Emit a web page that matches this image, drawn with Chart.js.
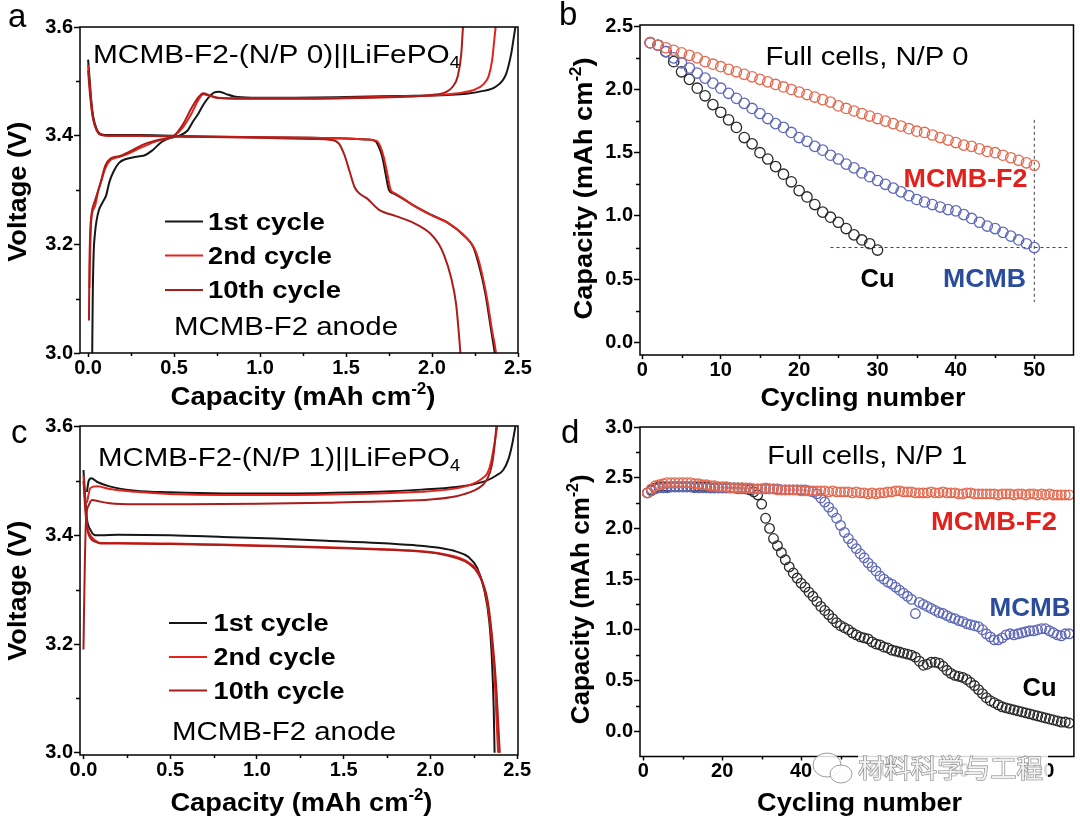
<!DOCTYPE html>
<html>
<head>
<meta charset="utf-8">
<script src="https://cdn.jsdelivr.net/npm/chart.js@4.4.0/dist/chart.umd.min.js"></script>
<style>
  html, body { margin: 0; padding: 0; background: #fff; }
  #wrap { position: relative; width: 1080px; height: 819px; overflow: hidden; background: #fff; }
  canvas { position: absolute; }
</style>
</head>
<body>
<div id="wrap">
  <canvas id="chartA" width="540" height="416" style="left:0;top:0"></canvas>
  <canvas id="chartB" width="540" height="416" style="left:540px;top:0"></canvas>
  <canvas id="chartC" width="540" height="409" style="left:0;top:410px"></canvas>
  <canvas id="chartD" width="540" height="409" style="left:540px;top:410px"></canvas>
</div>
<script>
// ---------- panel a : MCMB-F2-(N/P 0)||LiFePO4, voltage vs capacity
var aXTicks = [0, 0.5, 1.0, 1.5, 2.0, 2.5];
var aXMinor = [0.25, 0.75, 1.25, 1.75, 2.25];
var aYTicks = [3.0, 3.2, 3.4, 3.6];
var aYMinor = [3.1, 3.3, 3.5];

var aCh1Cap = [0.024, 0.027, 0.032, 0.04, 0.05, 0.064, 0.084, 0.105, 0.124, 0.15, 0.18, 0.22, 0.26, 0.30, 0.33, 0.37, 0.43, 0.48, 0.53, 0.58, 0.61, 0.64, 0.67, 0.70, 0.73, 0.76, 0.80, 0.85, 0.95, 1.20, 1.50, 1.80, 2.09, 2.20, 2.29, 2.37, 2.43, 2.46, 2.475, 2.485];
var aCh1V = [3.00, 3.10, 3.18, 3.22, 3.245, 3.264, 3.277, 3.29, 3.315, 3.335, 3.35, 3.357, 3.36, 3.362, 3.364, 3.372, 3.389, 3.396, 3.40, 3.41, 3.426, 3.44, 3.457, 3.47, 3.479, 3.481, 3.477, 3.472, 3.47, 3.47, 3.471, 3.473, 3.475, 3.477, 3.482, 3.49, 3.513, 3.55, 3.58, 3.60];
var aCh2Cap = [0.008, 0.010, 0.014, 0.02, 0.04, 0.06, 0.08, 0.10, 0.13, 0.17, 0.22, 0.30, 0.40, 0.50, 0.55, 0.60, 0.64, 0.67, 0.70, 0.75, 0.90, 1.20, 1.50, 1.80, 2.00, 2.15, 2.25, 2.30, 2.33, 2.35, 2.36, 2.37];
var aCh2V = [3.12, 3.16, 3.21, 3.25, 3.27, 3.30, 3.32, 3.34, 3.355, 3.36, 3.365, 3.377, 3.39, 3.40, 3.415, 3.44, 3.465, 3.476, 3.474, 3.47, 3.469, 3.469, 3.47, 3.472, 3.474, 3.478, 3.485, 3.495, 3.51, 3.54, 3.57, 3.60];
var aCh10Cap = [0.005, 0.008, 0.012, 0.02, 0.04, 0.07, 0.10, 0.13, 0.18, 0.25, 0.33, 0.42, 0.50, 0.55, 0.60, 0.64, 0.67, 0.70, 0.75, 0.90, 1.20, 1.50, 1.80, 2.00, 2.08, 2.12, 2.15, 2.17, 2.18];
var aCh10V = [3.06, 3.16, 3.22, 3.255, 3.28, 3.31, 3.345, 3.358, 3.362, 3.372, 3.385, 3.393, 3.40, 3.42, 3.45, 3.47, 3.478, 3.475, 3.47, 3.468, 3.468, 3.469, 3.471, 3.475, 3.48, 3.49, 3.51, 3.55, 3.60];
var aDis1Cap = [0.0, 0.01, 0.02, 0.03, 0.05, 0.08, 0.12, 0.30, 0.60, 1.00, 1.30, 1.50, 1.62, 1.67, 1.69, 1.71, 1.73, 1.75, 1.78, 1.81, 1.89, 1.99, 2.09, 2.19, 2.24, 2.27, 2.31, 2.34, 2.355, 2.365];
var aDis1V = [3.54, 3.50, 3.46, 3.435, 3.412, 3.402, 3.401, 3.401, 3.399, 3.397, 3.396, 3.395, 3.393, 3.39, 3.38, 3.362, 3.33, 3.30, 3.293, 3.288, 3.272, 3.255, 3.24, 3.215, 3.195, 3.165, 3.11, 3.05, 3.02, 3.00];
var aDis2Cap = [0.0, 0.01, 0.02, 0.03, 0.05, 0.08, 0.12, 0.30, 0.60, 1.00, 1.30, 1.50, 1.62, 1.68, 1.70, 1.72, 1.74, 1.76, 1.79, 1.82, 1.90, 2.00, 2.10, 2.20, 2.25, 2.28, 2.32, 2.35, 2.365, 2.372];
var aDis2V = [3.53, 3.49, 3.455, 3.43, 3.41, 3.401, 3.40, 3.40, 3.398, 3.397, 3.396, 3.395, 3.393, 3.39, 3.38, 3.36, 3.33, 3.30, 3.293, 3.287, 3.27, 3.253, 3.238, 3.212, 3.19, 3.16, 3.10, 3.04, 3.015, 3.00];
var aDis10Cap = [0.0, 0.01, 0.02, 0.03, 0.05, 0.08, 0.12, 0.30, 0.60, 1.00, 1.30, 1.42, 1.46, 1.49, 1.52, 1.55, 1.58, 1.62, 1.69, 1.79, 1.89, 1.99, 2.04, 2.07, 2.11, 2.14, 2.155, 2.165];
var aDis10V = [3.52, 3.48, 3.45, 3.43, 3.41, 3.401, 3.40, 3.40, 3.398, 3.396, 3.394, 3.392, 3.385, 3.365, 3.335, 3.305, 3.293, 3.285, 3.264, 3.252, 3.24, 3.22, 3.20, 3.18, 3.14, 3.09, 3.04, 3.00];

// ---------- panel b : full cells N/P 0, capacity vs cycle
var bXTicks = [0, 10, 20, 30, 40, 50];
var bXMinor = [5, 15, 25, 35, 45];
var bYTicks = [0, 0.5, 1.0, 1.5, 2.0, 2.5];
var bYMinor = [0.25, 0.75, 1.25, 1.75, 2.25];
var bF2 = [2.37, 2.35, 2.33, 2.31, 2.29, 2.27, 2.25, 2.22, 2.20, 2.18, 2.16, 2.14, 2.12, 2.10, 2.08, 2.06, 2.04, 2.02, 2.00, 1.98, 1.96, 1.94, 1.92, 1.90, 1.87, 1.85, 1.83, 1.81, 1.79, 1.77, 1.75, 1.73, 1.71, 1.69, 1.67, 1.66, 1.64, 1.62, 1.60, 1.58, 1.56, 1.55, 1.53, 1.51, 1.50, 1.48, 1.46, 1.44, 1.42, 1.40];
var bMCMB = [2.37, 2.35, 2.30, 2.25, 2.21, 2.17, 2.13, 2.09, 2.05, 2.01, 1.97, 1.93, 1.89, 1.85, 1.81, 1.77, 1.73, 1.70, 1.66, 1.62, 1.59, 1.55, 1.52, 1.48, 1.45, 1.41, 1.38, 1.34, 1.31, 1.28, 1.25, 1.22, 1.19, 1.16, 1.13, 1.11, 1.09, 1.07, 1.05, 1.04, 1.01, 0.98, 0.95, 0.92, 0.90, 0.87, 0.84, 0.81, 0.78, 0.75];
var bCu = [2.37, 2.35, 2.30, 2.22, 2.14, 2.08, 2.01, 1.95, 1.88, 1.82, 1.76, 1.70, 1.62, 1.57, 1.50, 1.45, 1.39, 1.33, 1.27, 1.20, 1.15, 1.09, 1.03, 0.99, 0.95, 0.90, 0.85, 0.81, 0.78, 0.73];
var bHLineX = [24, 54.2];
var bHLineY = [0.75, 0.75];
var bVLineX = [50, 50];
var bVLineY = [1.76, 0.32];

// ---------- panel c : MCMB-F2-(N/P 1)||LiFePO4
var cXTicks = [0, 0.5, 1.0, 1.5, 2.0, 2.5];
var cXMinor = [0.25, 0.75, 1.25, 1.75, 2.25];
var cYTicks = [3.0, 3.2, 3.4, 3.6];
var cYMinor = [3.1, 3.3, 3.5];
var cCh1Cap = [0.02, 0.03, 0.045, 0.08, 0.15, 0.30, 0.50, 0.80, 1.10, 1.40, 1.70, 1.95, 2.15, 2.25, 2.32, 2.38, 2.42, 2.45, 2.47, 2.49];
var cCh1V = [3.48, 3.50, 3.505, 3.498, 3.49, 3.482, 3.479, 3.477, 3.477, 3.478, 3.48, 3.484, 3.489, 3.494, 3.50, 3.51, 3.52, 3.54, 3.565, 3.60];
var cCh2Cap = [0.02, 0.04, 0.08, 0.15, 0.30, 0.50, 0.80, 1.10, 1.40, 1.70, 1.95, 2.10, 2.20, 2.26, 2.30, 2.33, 2.35, 2.37, 2.385];
var cCh2V = [3.46, 3.487, 3.49, 3.485, 3.48, 3.476, 3.474, 3.474, 3.475, 3.477, 3.48, 3.484, 3.49, 3.497, 3.505, 3.515, 3.535, 3.57, 3.60];
var cCh10Cap = [0.0, 0.008, 0.015, 0.03, 0.05, 0.08, 0.15, 0.30, 0.60, 1.00, 1.40, 1.80, 2.00, 2.15, 2.25, 2.30, 2.33, 2.355, 2.37, 2.38];
var cCh10V = [3.19, 3.35, 3.43, 3.455, 3.465, 3.463, 3.459, 3.457, 3.457, 3.458, 3.46, 3.463, 3.466, 3.472, 3.482, 3.492, 3.505, 3.53, 3.565, 3.60];
var cDis1Cap = [0.0, 0.01, 0.02, 0.04, 0.07, 0.10, 0.20, 0.50, 0.80, 1.10, 1.40, 1.70, 1.90, 2.05, 2.15, 2.22, 2.27, 2.31, 2.34, 2.355, 2.365, 2.37];
var cDis1V = [3.52, 3.47, 3.43, 3.41, 3.40, 3.40, 3.401, 3.40, 3.397, 3.394, 3.39, 3.386, 3.382, 3.377, 3.37, 3.36, 3.34, 3.30, 3.24, 3.17, 3.08, 3.00];
var cDis2Cap = [0.0, 0.01, 0.02, 0.04, 0.07, 0.10, 0.20, 0.50, 0.80, 1.10, 1.40, 1.70, 1.90, 2.05, 2.15, 2.22, 2.28, 2.32, 2.35, 2.37, 2.38, 2.39];
var cDis2V = [3.51, 3.46, 3.42, 3.40, 3.39, 3.386, 3.386, 3.385, 3.383, 3.381, 3.378, 3.375, 3.372, 3.367, 3.36, 3.35, 3.33, 3.29, 3.22, 3.14, 3.07, 3.00];
var cDis10Cap = [0.0, 0.01, 0.02, 0.04, 0.07, 0.10, 0.20, 0.50, 0.80, 1.10, 1.40, 1.70, 1.90, 2.05, 2.15, 2.22, 2.28, 2.33, 2.36, 2.38, 2.39, 2.40];
var cDis10V = [3.50, 3.45, 3.415, 3.395, 3.388, 3.385, 3.385, 3.384, 3.382, 3.38, 3.377, 3.374, 3.371, 3.366, 3.358, 3.348, 3.327, 3.28, 3.20, 3.12, 3.06, 3.00];

// ---------- panel d : full cells N/P 1
var dXTicks = [0, 20, 40, 60, 80, 100];
var dXMinor = [10, 30, 50, 70, 90];
var dYTicks = [0, 0.5, 1.0, 1.5, 2.0, 2.5, 3.0];
var dYMinor = [0.25, 0.75, 1.25, 1.75, 2.25, 2.75];
var dF2 = [2.35, 2.39, 2.42, 2.43, 2.44, 2.45, 2.45, 2.45, 2.45, 2.45,
  2.45, 2.45, 2.44, 2.44, 2.43, 2.43, 2.42, 2.42, 2.41, 2.41,
  2.41, 2.40, 2.40, 2.40, 2.40, 2.40, 2.40, 2.39, 2.39, 2.39,
  2.40, 2.39, 2.39, 2.38, 2.38, 2.38, 2.38, 2.38, 2.38, 2.37,
  2.37, 2.37, 2.37, 2.37, 2.37, 2.37, 2.36, 2.37, 2.36, 2.36,
  2.36, 2.36, 2.35, 2.36, 2.35, 2.35, 2.34, 2.35, 2.34, 2.35,
  2.35, 2.36, 2.36, 2.37, 2.37, 2.36, 2.36, 2.36, 2.35, 2.35,
  2.35, 2.35, 2.36, 2.35, 2.35, 2.36, 2.35, 2.35, 2.35, 2.34,
  2.34, 2.35, 2.35, 2.34, 2.34, 2.34, 2.34, 2.34, 2.34, 2.33,
  2.34, 2.34, 2.34, 2.33, 2.34, 2.34, 2.33, 2.34, 2.34, 2.33,
  2.34, 2.33, 2.34, 2.33, 2.33, 2.33, 2.33, 2.33];
var dMCMB = [2.35, 2.37, 2.39, 2.40, 2.40, 2.40, 2.41, 2.41, 2.41, 2.41,
  2.41, 2.41, 2.40, 2.40, 2.40, 2.40, 2.40, 2.40, 2.40, 2.40,
  2.40, 2.40, 2.40, 2.39, 2.39, 2.39, 2.39, 2.39, 2.39, 2.39,
  2.39, 2.39, 2.39, 2.39, 2.38, 2.38, 2.38, 2.38, 2.38, 2.38,
  2.38, 2.37, 2.36, 2.34, 2.30, 2.26, 2.21, 2.16, 2.10, 2.03,
  1.96, 1.90, 1.85, 1.80, 1.75, 1.71, 1.66, 1.62, 1.58, 1.53,
  1.50, 1.47, 1.45, 1.42, 1.39, 1.36, 1.33, 1.30, 1.16, 1.27,
  1.25, 1.23, 1.21, 1.19, 1.17, 1.16, 1.14, 1.12, 1.11, 1.09,
  1.08, 1.06, 1.05, 1.04, 1.03, 1.00, 0.96, 0.93, 0.90, 0.90,
  0.92, 0.95, 0.96, 0.95, 0.96, 0.97, 0.98, 0.99, 0.99, 1.00,
  1.01, 1.01, 0.99, 0.97, 0.95, 0.94, 0.96, 0.96];
var dCu = [2.35, 2.38, 2.40, 2.41, 2.41, 2.41, 2.41, 2.41, 2.41, 2.41,
  2.41, 2.41, 2.41, 2.41, 2.41, 2.41, 2.40, 2.40, 2.40, 2.40,
  2.40, 2.40, 2.40, 2.40, 2.40, 2.39, 2.38, 2.36, 2.33, 2.24,
  2.10, 2.00, 1.90, 1.83, 1.76, 1.69, 1.62, 1.56, 1.51, 1.46,
  1.42, 1.37, 1.33, 1.28, 1.23, 1.19, 1.15, 1.11, 1.07, 1.04,
  1.02, 1.00, 0.97, 0.95, 0.93, 0.92, 0.91, 0.88, 0.86, 0.85,
  0.83, 0.82, 0.80, 0.79, 0.78, 0.77, 0.76, 0.75, 0.73, 0.69,
  0.65, 0.66, 0.68, 0.68, 0.67, 0.64, 0.60, 0.57, 0.55, 0.54,
  0.53, 0.51, 0.48, 0.45, 0.41, 0.37, 0.33, 0.30, 0.28, 0.26,
  0.24, 0.23, 0.22, 0.21, 0.20, 0.19, 0.18, 0.17, 0.16, 0.15,
  0.14, 0.13, 0.12, 0.11, 0.10, 0.09, 0.09, 0.08];

// ---------- styles
var FAM = '"Liberation Sans", Arial, sans-serif';
var BLACK = '#161616';
var RED2 = '#e3231c';
var RED10 = '#a91d1a';
var TXT_RED = '#e3211c';
var TXT_BLUE = '#2b4c9b';
var RING_RED = '#e4694f';
var RING_BLUE = '#5f69b8';
var RING_BLACK = '#2a2a2a';
var tickFont = { family: FAM, size: 20, weight: 'bold' };

//courbe tension/capacite
var curve = function (caps, volts, color) {
    return {
        data: caps.map(function (c, i) { return { x: c, y: volts[i] }; }),
        showLine: true, borderColor: color, borderWidth: 2,
        pointRadius: 0, fill: false, cubicInterpolationMode: 'monotone'
    };
};

//cercles vides, abscisse = numero de cycle
var rings = function (values, color, r) {
    return {
        data: values.map(function (v, i) { return { x: i + 1, y: v }; }),
        showLine: false, pointStyle: 'circle', pointRadius: r, pointBorderWidth: 1.3,
        borderColor: color, backgroundColor: 'rgba(0,0,0,0)'
    };
};

var dashed = function (xs, ys) {
    return {
        data: xs.map(function (x, i) { return { x: x, y: ys[i] }; }),
        showLine: true, borderColor: '#444', borderWidth: 1, borderDash: [3, 3], pointRadius: 0
    };
};

function drawRich(ctx, t) {
    var w = t.bold ? 'bold ' : '';
    var fam = t.family || FAM;
    var fontFor = function (p) { return w + (p.sub || p.sup ? Math.round(t.size * 0.62) : t.size) + 'px ' + fam; };
    ctx.save();
    var widths = t.parts.map(function (p) { ctx.font = fontFor(p); return ctx.measureText(p.s).width; });
    var natural = widths.reduce(function (a, b) { return a + b; }, 0);
    var sx = t.width ? t.width / natural : 1;
    ctx.translate(t.x, t.y);
    if (t.rot) ctx.rotate(t.rot);
    ctx.scale(sx, 1);
    var cx = t.align === 'center' ? -natural / 2 : 0;
    ctx.textBaseline = 'alphabetic';
    ctx.textAlign = 'left';
    t.parts.forEach(function (p, i) {
        ctx.font = fontFor(p);
        var dy = p.sub ? t.size * 0.2 : (p.sup ? -t.size * 0.42 : 0);
        if (t.stroke) {
            ctx.lineWidth = t.strokeWidth || 1;
            ctx.strokeStyle = t.stroke;
            ctx.strokeText(p.s, cx, dy);
        }
        ctx.fillStyle = t.color || '#000';
        ctx.fillText(p.s, cx, dy);
        cx += widths[i];
    });
    ctx.restore();
}

// cadre, petites graduations, textes
function decor(cfg) {
    return {
        id: 'decor',
        afterDraw: function (chart) {
            var ctx = chart.ctx, a = chart.chartArea;
            var xs = chart.scales.x, ys = chart.scales.y;
            ctx.save();
            ctx.strokeStyle = '#000';
            ctx.lineWidth = 1.5;
            ctx.beginPath();
            cfg.xMinor.forEach(function (v) {
                var px = Math.round(xs.getPixelForValue(v)) + 0.5;
                ctx.moveTo(px, a.bottom); ctx.lineTo(px, a.bottom + 3);
            });
            cfg.yMinor.forEach(function (v) {
                var py = Math.round(ys.getPixelForValue(v)) + 0.5;
                ctx.moveTo(a.left - 4, py); ctx.lineTo(a.left, py);
            });
            ctx.stroke();
            ctx.strokeRect(a.left, a.top, a.right - a.left, a.bottom - a.top);
            (cfg.lines || []).forEach(function (l) {
                ctx.strokeStyle = l.color;
                ctx.lineWidth = 2;
                ctx.beginPath();
                ctx.moveTo(l.x1, l.y); ctx.lineTo(l.x2, l.y);
                ctx.stroke();
            });
            if (cfg.before) cfg.before(ctx);
            ctx.restore();
            cfg.texts.forEach(function (t) { drawRich(ctx, t); });
        }
    };
}

function axis(a, isX) {
    return {
        type: 'linear', min: a.min, max: a.max,
        afterFit: function (s) { if (isX) { s.height = a.size; } else { s.width = a.size; } },
        afterBuildTicks: function (s) { s.ticks = a.ticks.map(function (v) { return { value: v }; }); },
        ticks: { autoSkip: false, maxRotation: 0, minRotation: 0, padding: a.pad, color: '#000', font: tickFont, callback: a.fmt },
        grid: { drawOnChartArea: false, drawTicks: true, tickLength: a.tick, tickColor: '#000', tickWidth: 1.5, color: '#000' },
        border: { display: false }
    };
}

function buildChart(id, p) {
    return new Chart(document.getElementById(id), {
        type: 'scatter',
        data: { datasets: p.datasets },
        options: {
            responsive: false,
            animation: false,
            events: [],
            layout: { padding: p.pad },
            plugins: { legend: { display: false }, tooltip: { enabled: false } },
            scales: { x: axis(p.x, true), y: axis(p.y, false) }
        },
        plugins: [decor(p)]
    });
}

var fmt1 = function (v) { return Number(v).toFixed(1); };
var fmt0 = function (v) { return String(v); };
var capTitle = [{ s: 'Capacity (mAh cm' }, { s: '-2', sup: true }, { s: ')' }];
var UP = -Math.PI / 2;

// ---- a
buildChart('chartA', {
    pad: { left: 0, right: 22, top: 27, bottom: 0 },
    x: { min: -0.047, max: 2.5, ticks: aXTicks, size: 63, tick: 4, pad: -1, fmt: fmt1 },
    y: { min: 3.0, max: 3.6, ticks: aYTicks, size: 80, tick: 6, pad: 1, fmt: fmt1 },
    xMinor: aXMinor, yMinor: aYMinor,
    datasets: [
        curve(aDis10Cap, aDis10V, RED10), curve(aCh10Cap, aCh10V, RED10),
        curve(aDis2Cap, aDis2V, RED2), curve(aCh2Cap, aCh2V, RED2),
        curve(aDis1Cap, aDis1V, BLACK), curve(aCh1Cap, aCh1V, BLACK)
    ],
    lines: [
        { x1: 165, x2: 203, y: 221.5, color: BLACK },
        { x1: 165, x2: 203, y: 255.5, color: RED2 },
        { x1: 165, x2: 203, y: 290, color: RED10 }
    ],
    texts: [
        { parts: [{ s: 'a' }], x: 8, y: 27, size: 33 },
        { parts: [{ s: 'MCMB-F2-(N/P 0)||LiFePO' }, { s: '4', sub: true }], x: 93, y: 62.5, size: 26, width: 367 },
        { parts: [{ s: '1st cycle' }], x: 208, y: 229.8, size: 23, bold: true, width: 117 },
        { parts: [{ s: '2nd cycle' }], x: 208, y: 263.6, size: 23, bold: true, width: 124 },
        { parts: [{ s: '10th cycle' }], x: 208, y: 298, size: 23, bold: true, width: 133 },
        { parts: [{ s: 'MCMB-F2 anode' }], x: 174, y: 334.6, size: 26, width: 224 },
        { parts: [{ s: 'Voltage (V)' }], x: 25.8, y: 191.8, size: 26, bold: true, rot: UP, align: 'center', width: 140 },
        { parts: capTitle, x: 303, y: 405, size: 26, bold: true, align: 'center', width: 265 }
    ]
});

// ---- b
buildChart('chartB', {
    pad: { left: 0, right: 3, top: 25, bottom: 0 },
    x: { min: -0.3, max: 55, ticks: bXTicks, size: 61, tick: 4, pad: -1, fmt: fmt0 },
    y: { min: -0.1, max: 2.51, ticks: bYTicks, size: 100, tick: 6, pad: 1, fmt: fmt1 },
    xMinor: bXMinor, yMinor: bYMinor,
    datasets: [
        rings(bF2, RING_RED, 5.2), rings(bMCMB, RING_BLUE, 5.2), rings(bCu, RING_BLACK, 5.2),
        dashed(bHLineX, bHLineY), dashed(bVLineX, bVLineY)
    ],
    texts: [
        { parts: [{ s: 'b' }], x: 19, y: 25, size: 33 },
        { parts: [{ s: 'Full cells, N/P 0' }], x: 327, y: 65, size: 25, align: 'center', width: 203 },
        { parts: [{ s: 'MCMB-F2' }], x: 425.5, y: 187, size: 25, bold: true, color: TXT_RED, align: 'center', width: 124 },
        { parts: [{ s: 'Cu' }], x: 337.6, y: 286.6, size: 25, bold: true, align: 'center', width: 34 },
        { parts: [{ s: 'MCMB' }], x: 444.4, y: 286.6, size: 25, bold: true, color: TXT_BLUE, align: 'center', width: 83 },
        { parts: capTitle, x: 51.7, y: 188.5, size: 26, bold: true, rot: UP, align: 'center', width: 262 },
        { parts: [{ s: 'Cycling number' }], x: 323, y: 405.6, size: 26, bold: true, align: 'center', width: 205 }
    ]
});

// ---- c
buildChart('chartC', {
    pad: { left: 0, right: 22, top: 16, bottom: 0 },
    x: { min: -0.02, max: 2.505, ticks: cXTicks, size: 64, tick: 4, pad: -1, fmt: fmt1 },
    y: { min: 2.996, max: 3.601, ticks: cYTicks, size: 80, tick: 6, pad: 1, fmt: fmt1 },
    xMinor: cXMinor, yMinor: cYMinor,
    datasets: [
        curve(cDis10Cap, cDis10V, RED10), curve(cCh10Cap, cCh10V, RED10),
        curve(cDis2Cap, cDis2V, RED2), curve(cCh2Cap, cCh2V, RED2),
        curve(cDis1Cap, cDis1V, BLACK), curve(cCh1Cap, cCh1V, BLACK)
    ],
    lines: [
        { x1: 169, x2: 207, y: 213, color: BLACK },
        { x1: 169, x2: 207, y: 247, color: RED2 },
        { x1: 169, x2: 207, y: 280.5, color: RED10 }
    ],
    texts: [
        { parts: [{ s: 'c' }], x: 11, y: 33.3, size: 33 },
        { parts: [{ s: 'MCMB-F2-(N/P 1)||LiFePO' }, { s: '4', sub: true }], x: 98, y: 55.8, size: 26, width: 362 },
        { parts: [{ s: '1st cycle' }], x: 213.6, y: 221.4, size: 23, bold: true, width: 115 },
        { parts: [{ s: '2nd cycle' }], x: 213.6, y: 255.1, size: 23, bold: true, width: 122 },
        { parts: [{ s: '10th cycle' }], x: 213.6, y: 289, size: 23, bold: true, width: 131 },
        { parts: [{ s: 'MCMB-F2 anode' }], x: 172, y: 329.6, size: 26, width: 224 },
        { parts: [{ s: 'Voltage (V)' }], x: 25.8, y: 180.8, size: 26, bold: true, rot: UP, align: 'center', width: 140 },
        { parts: capTitle, x: 301.4, y: 401, size: 26, bold: true, align: 'center', width: 262 }
    ]
});

// ---- d
buildChart('chartD', {
    pad: { left: 0, right: 4, top: 17, bottom: 0 },
    x: { min: -0.86, max: 109.2, ticks: dXTicks, size: 62.5, tick: 4, pad: -1, fmt: fmt0 },
    y: { min: -0.25, max: 3.0, ticks: dYTicks, size: 100, tick: 6, pad: 1, fmt: fmt1 },
    xMinor: dXMinor, yMinor: dYMinor,
    datasets: [
        rings(dF2, RING_RED, 4.8), rings(dMCMB, RING_BLUE, 4.8), rings(dCu, RING_BLACK, 4.8)
    ],
    before: function (ctx) {
        // icone du filigrane
        ctx.lineWidth = 1;
        ctx.strokeStyle = 'rgba(140,140,140,0.85)';
        ctx.fillStyle = 'rgba(255,255,255,0.85)';
        ctx.fillRect(318, 345, 190, 28);
        ctx.beginPath(); ctx.ellipse(287, 355, 14, 12, 0, 0, Math.PI * 2); ctx.fill(); ctx.stroke();
        ctx.beginPath(); ctx.ellipse(301, 364, 11, 9, 0, 0, Math.PI * 2); ctx.fill(); ctx.stroke();
    },
    texts: [
        { parts: [{ s: 'd' }], x: 21, y: 33.3, size: 33 },
        { parts: [{ s: 'Full cells, N/P 1' }], x: 327.3, y: 54, size: 25, align: 'center', width: 200 },
        { parts: [{ s: 'MCMB-F2' }], x: 454, y: 120, size: 25, bold: true, color: TXT_RED, align: 'center', width: 126 },
        { parts: [{ s: 'MCMB' }], x: 490, y: 206, size: 25, bold: true, color: TXT_BLUE, align: 'center', width: 81 },
        { parts: [{ s: 'Cu' }], x: 499.5, y: 285.6, size: 25, bold: true, align: 'center', width: 34 },
        { parts: capTitle, x: 49, y: 189.3, size: 26, bold: true, rot: UP, align: 'center', width: 250 },
        { parts: [{ s: 'Cycling number' }], x: 319.6, y: 400.5, size: 26, bold: true, align: 'center', width: 205 },
        { parts: [{ s: '材料科学与工程' }], x: 318, y: 368, size: 26, family: '"Noto Sans CJK SC", sans-serif', color: 'rgba(255,255,255,0.8)', stroke: 'rgba(120,120,120,0.9)', strokeWidth: 1.2, width: 185 }
    ]
});
</script>
</body>
</html>
